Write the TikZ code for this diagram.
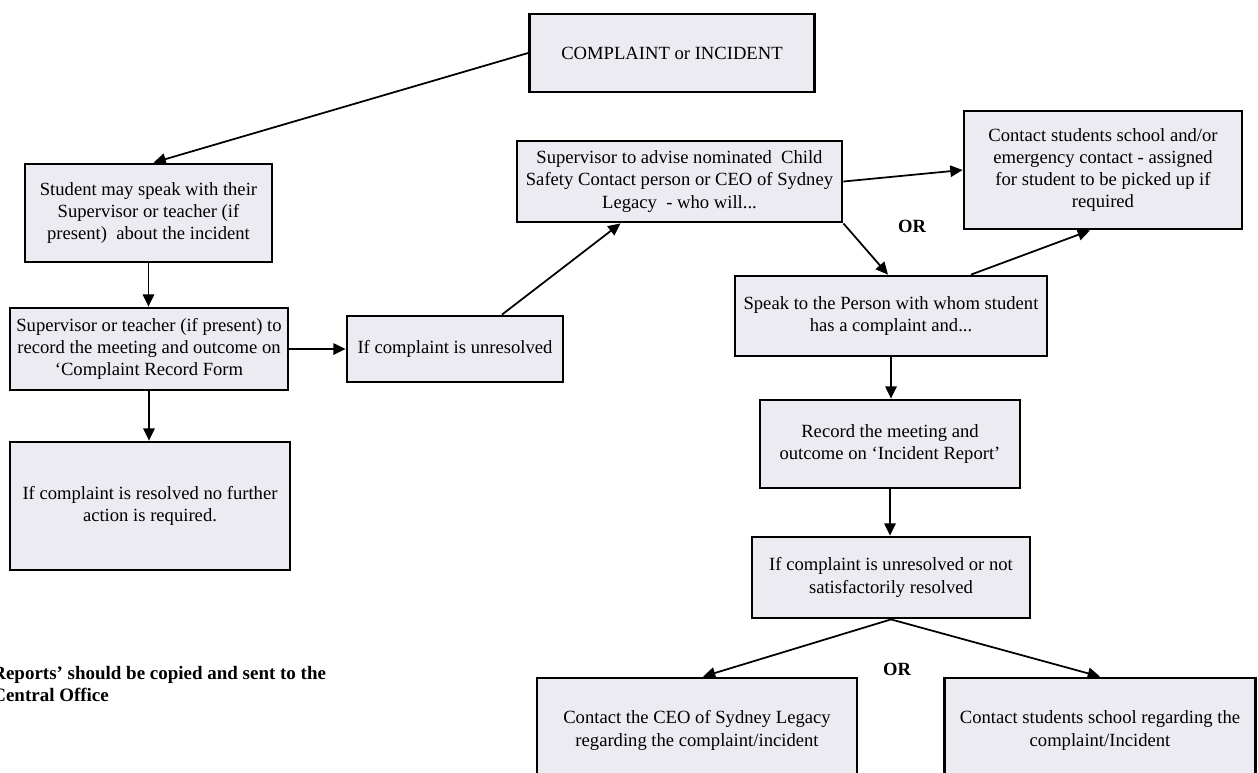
\documentclass[tikz,border=0pt]{standalone}
\usepackage{fontspec}
\setmainfont{Liberation Serif}
\usetikzlibrary{positioning,arrows.meta}
\definecolor{boxfill}{RGB}{237,235,242}
\tikzset{
  flowbox/.style={draw=black, line width=1.6pt, fill=boxfill, align=center,
    font=\fontsize{10.6}{12.6}\selectfont, inner sep=2pt},
  flowarrow/.style={-{Triangle[length=7pt,width=6.5pt]}, line width=1pt},
  ortext/.style={font=\fontsize{10.6}{12}\selectfont\bfseries},
}

\begin{document}
\begin{tikzpicture}[x=0.02cm,y=-0.02cm]
        \useasboundingbox (0,0) rectangle (1258,772);
        % Left column
        \node[flowbox, minimum width=5.7cm, minimum height=1.56cm] (complaint) at (672,53) {COMPLAINT or INCIDENT};
        \node[flowbox, minimum width=4.94cm, minimum height=1.96cm] (student) at (148.5,213) {Student may speak with their\\Supervisor or teacher (if\\present)\ \ about the incident};
        \node[flowbox, minimum width=5.56cm, minimum height=1.64cm] (recordform) at (149,349) {Supervisor or teacher (if present) to\\record the meeting and outcome on\\`Complaint Record Form};
        \node[flowbox, minimum width=5.6cm, minimum height=2.56cm] (resolved) at (150,506) {If complaint is resolved no further\\action is required.};
        \node[flowbox, minimum width=4.32cm, minimum height=1.32cm] (unresolved) at (455,349) {If complaint is unresolved};

        % Right side
        \node[flowbox, minimum width=6.5cm, minimum height=1.62cm] (advise) at (679.5,181.5) {Supervisor to advise nominated\ \ Child\\Safety Contact person or CEO of Sydney\\Legacy\ \ - who will...};
        \node[flowbox, minimum width=5.56cm, minimum height=2.36cm] (pickup) at (1103,170) {Contact students school and/or\\emergency contact - assigned\\for student to be picked up if\\required};
        \node[flowbox, minimum width=6.24cm, minimum height=1.6cm] (speak) at (891,316) {Speak to the Person with whom student\\has a complaint and...};
        \node[flowbox, minimum width=5.2cm, minimum height=1.76cm] (record) at (890,444) {Record the meeting and\\outcome on `Incident Report'};
        \node[flowbox, minimum width=5.56cm, minimum height=1.62cm] (notresolved) at (891,577.5) {If complaint is unresolved or not\\satisfactorily resolved};
        \node[flowbox, minimum width=6.4cm, minimum height=2.1cm] (ceo) at (697,730.5) {Contact the CEO of Sydney Legacy\\regarding the complaint/incident};
        \node[flowbox, minimum width=6.22cm, minimum height=2.1cm] (school) at (1100,730.5) {Contact students school regarding the\\complaint/Incident};

        % OR labels
        \node[ortext] (or1) at (912,226) {OR};
        \node[ortext] (or2) at (897,669) {OR};

        % Note (cut at the left edge, as printed)
        \node[font=\fontsize{10.8}{12.6}\selectfont\bfseries, align=left, anchor=west, inner sep=0pt] (note) at (-8,684) {Reports' should be copied and sent to the\\Central Office};

        % Connectors
        \draw[flowarrow] (complaint.west) -- ([xshift=0.1cm]student.north);
        \draw[flowarrow] (student.south) -- (student.south |- recordform.north);
        \draw[flowarrow] (recordform.south) -- (recordform.south |- resolved.north);
        \draw[flowarrow] (recordform) -- (unresolved);
        \draw[flowarrow] ([xshift=0.94cm]unresolved.north) -- ([xshift=-1.18cm]advise.south);
        \draw[flowarrow] (advise.east) -- (pickup.west);
        \draw[flowarrow] (advise.south east) -- ([xshift=-0.06cm]speak.north);
        \draw[flowarrow] ([xshift=1.6cm]speak.north) -- ([xshift=-0.26cm]pickup.south);
        \draw[flowarrow] (speak.south) -- (speak.south |- record.north);
        \draw[flowarrow] (record.south) -- (record.south |- notresolved.north);
        \draw[flowarrow] (notresolved.south) -- ([xshift=0.12cm]ceo.north);
        \draw[flowarrow] (notresolved.south) -- (school.north);
\end{tikzpicture}
\end{document}
